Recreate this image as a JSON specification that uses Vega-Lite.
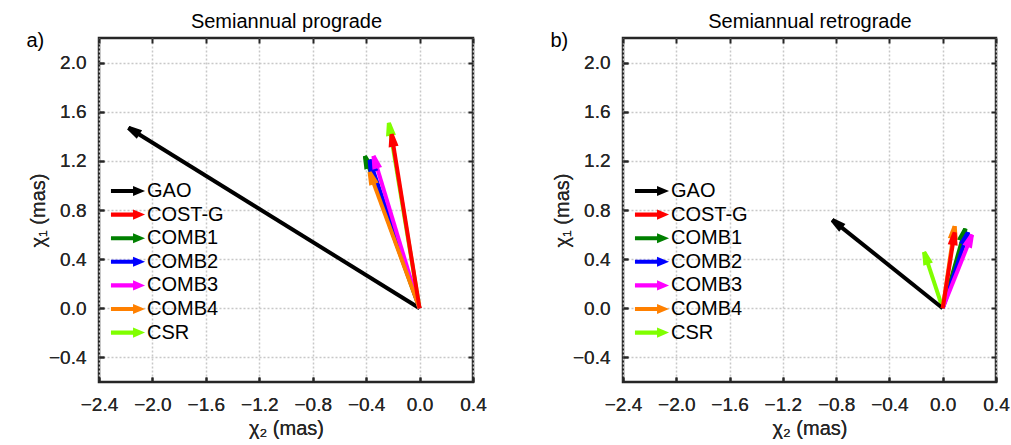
{
  "$schema": "https://vega.github.io/schema/vega-lite/v6.json",
  "padding": {"left": 25, "top": 9, "right": 2, "bottom": 5},
  "data": {"values": [
    {"panel": "a", "series": "CSR", "x": -0.23, "y": 1.51},
    {"panel": "a", "series": "GAO", "x": -2.18, "y": 1.47},
    {"panel": "a", "series": "COMB1", "x": -0.41, "y": 1.24},
    {"panel": "a", "series": "COMB2", "x": -0.375, "y": 1.21},
    {"panel": "a", "series": "COMB3", "x": -0.345, "y": 1.24},
    {"panel": "a", "series": "COMB4", "x": -0.375, "y": 1.11},
    {"panel": "a", "series": "COST-G", "x": -0.21, "y": 1.42},
    {"panel": "b", "series": "CSR", "x": -0.14, "y": 0.46},
    {"panel": "b", "series": "GAO", "x": -0.83, "y": 0.72},
    {"panel": "b", "series": "COMB1", "x": 0.17, "y": 0.65},
    {"panel": "b", "series": "COMB2", "x": 0.19, "y": 0.62},
    {"panel": "b", "series": "COMB3", "x": 0.22, "y": 0.6},
    {"panel": "b", "series": "COMB4", "x": 0.09, "y": 0.67},
    {"panel": "b", "series": "COST-G", "x": 0.09, "y": 0.62}
  ]},
  "hconcat": [
    {
      "width": 374, "height": 344,
      "title": {"text": "a)", "anchor": "start", "offset": -40, "dx": -2},
      "transform": [
        {"filter": "datum.panel == 'a'"},
        {"calculate": "atan2(datum.x*133.6, datum.y*122.9)*180/PI", "as": "ang"}
      ],
      "layer": [
        {
          "mark": {"type": "point", "filled": true, "opacity": 1, "shape": "M-0.2,0L0.2,0L0.45,1.2L-0.45,1.2Z", "size": 1, "strokeWidth": 0},
          "encoding": {
            "x": {"field": "x", "type": "quantitative", "scale": {"domain": [-2.4, 0.4], "nice": false, "zero": false},
                  "axis": {"orient": "bottom", "values": [-2.4, -2.0, -1.6, -1.2, -0.8, -0.4, 0.0, 0.4], "format": ".1f", "title": "χ₂ (mas)"}},
            "y": {"field": "y", "type": "quantitative", "scale": {"domain": [-0.6, 2.2], "nice": false, "zero": false},
                  "axis": {"orient": "left", "values": [-0.4, 0.0, 0.4, 0.8, 1.2, 1.6, 2.0], "format": ".1f", "title": "χ₁ (mas)", "titlePadding": 0}},
            "color": {"field": "series", "type": "nominal",
                      "scale": {"domain": ["GAO", "COST-G", "COMB1", "COMB2", "COMB3", "COMB4", "CSR"],
                                "range": ["#000000", "#ff0000", "#008000", "#0000ff", "#ff00ff", "#ff8000", "#80ff00"]},
                      "legend": {"orient": "none", "legendX": 17, "legendY": 141}}
          }
        },
        {
          "mark": {"type": "rule", "strokeWidth": 4, "strokeCap": "butt"},
          "encoding": {
            "x": {"field": "x", "type": "quantitative",
                  "axis": {"orient": "bottom", "values": [-2.4, -2.0, -1.6, -1.2, -0.8, -0.4, 0.0, 0.4], "format": ".1f", "title": "χ₂ (mas)"}},
            "x2": {"datum": 0},
            "y": {"field": "y", "type": "quantitative",
                  "axis": {"orient": "left", "values": [-0.4, 0.0, 0.4, 0.8, 1.2, 1.6, 2.0], "format": ".1f", "title": "χ₁ (mas)", "titlePadding": 0}},
            "y2": {"datum": 0},
            "color": {"field": "series", "type": "nominal"}
          }
        },
        {
          "mark": {"type": "point", "filled": true, "opacity": 1, "shape": "M-0.2,0L0.2,0L0.5,1.3L-0.5,1.3Z", "size": 400, "strokeWidth": 0},
          "encoding": {
            "x": {"field": "x", "type": "quantitative",
                  "axis": {"orient": "top", "values": [-2.4, -2.0, -1.6, -1.2, -0.8, -0.4, 0.0, 0.4], "labels": false, "grid": false, "title": "Semiannual prograde", "titleColor": "#000000", "titlePadding": 6}},
            "y": {"field": "y", "type": "quantitative",
                  "axis": {"orient": "right", "values": [-0.4, 0.0, 0.4, 0.8, 1.2, 1.6, 2.0], "labels": false, "grid": false, "title": null}},
            "angle": {"field": "ang", "type": "quantitative", "scale": null},
            "color": {"field": "series", "type": "nominal"}
          }
        }
      ]
    },
    {
      "width": 373, "height": 344,
      "title": {"text": "b)", "anchor": "start", "offset": -40, "dx": -2},
      "transform": [
        {"filter": "datum.panel == 'b'"},
        {"calculate": "atan2(datum.x*133.2, datum.y*122.9)*180/PI", "as": "ang"}
      ],
      "layer": [
        {
          "mark": {"type": "point", "filled": true, "opacity": 1, "shape": "M-0.2,0L0.2,0L0.45,1.2L-0.45,1.2Z", "size": 1, "strokeWidth": 0},
          "encoding": {
            "x": {"field": "x", "type": "quantitative", "scale": {"domain": [-2.4, 0.4], "nice": false, "zero": false},
                  "axis": {"orient": "bottom", "values": [-2.4, -2.0, -1.6, -1.2, -0.8, -0.4, 0.0, 0.4], "format": ".1f", "title": "χ₂ (mas)"}},
            "y": {"field": "y", "type": "quantitative", "scale": {"domain": [-0.6, 2.2], "nice": false, "zero": false},
                  "axis": {"orient": "left", "values": [-0.4, 0.0, 0.4, 0.8, 1.2, 1.6, 2.0], "format": ".1f", "title": "χ₁ (mas)", "titlePadding": 0}},
            "color": {"field": "series", "type": "nominal",
                      "scale": {"domain": ["GAO", "COST-G", "COMB1", "COMB2", "COMB3", "COMB4", "CSR"],
                                "range": ["#000000", "#ff0000", "#008000", "#0000ff", "#ff00ff", "#ff8000", "#80ff00"]},
                      "legend": {"orient": "none", "legendX": 17, "legendY": 141}}
          }
        },
        {
          "mark": {"type": "rule", "strokeWidth": 4, "strokeCap": "butt"},
          "encoding": {
            "x": {"field": "x", "type": "quantitative",
                  "axis": {"orient": "bottom", "values": [-2.4, -2.0, -1.6, -1.2, -0.8, -0.4, 0.0, 0.4], "format": ".1f", "title": "χ₂ (mas)"}},
            "x2": {"datum": 0},
            "y": {"field": "y", "type": "quantitative",
                  "axis": {"orient": "left", "values": [-0.4, 0.0, 0.4, 0.8, 1.2, 1.6, 2.0], "format": ".1f", "title": "χ₁ (mas)", "titlePadding": 0}},
            "y2": {"datum": 0},
            "color": {"field": "series", "type": "nominal"}
          }
        },
        {
          "mark": {"type": "point", "filled": true, "opacity": 1, "shape": "M-0.2,0L0.2,0L0.5,1.3L-0.5,1.3Z", "size": 400, "strokeWidth": 0},
          "encoding": {
            "x": {"field": "x", "type": "quantitative",
                  "axis": {"orient": "top", "values": [-2.4, -2.0, -1.6, -1.2, -0.8, -0.4, 0.0, 0.4], "labels": false, "grid": false, "title": "Semiannual retrograde", "titleColor": "#000000", "titlePadding": 6}},
            "y": {"field": "y", "type": "quantitative",
                  "axis": {"orient": "right", "values": [-0.4, 0.0, 0.4, 0.8, 1.2, 1.6, 2.0], "labels": false, "grid": false, "title": null}},
            "angle": {"field": "ang", "type": "quantitative", "scale": null},
            "color": {"field": "series", "type": "nominal"}
          }
        }
      ]
    }
  ],
  "spacing": 61,
  "resolve": {"scale": {"color": "independent"}, "legend": {"color": "independent"}},
  "config": {
    "font": "Liberation Sans",
    "view": {"stroke": "#262626", "strokeWidth": 2.5},
    "axis": {
      "labelFontSize": 19, "labelColor": "#262626", "labelPadding": 18, "labelOverlap": false, "labelFlush": false,
      "titleFontSize": 20, "titleFontWeight": "normal", "titleColor": "#262626", "titlePadding": 4,
      "domain": false, "ticks": true, "tickColor": "#262626", "tickWidth": 2, "tickSize": -5,
      "grid": true, "gridColor": "#c8c8c8", "gridDash": [2, 2], "gridWidth": 1.5
    },
    "title": {"fontSize": 20, "fontWeight": "normal", "color": "#000000"},
    "legend": {
      "title": null, "padding": 0,
      "symbolType": "M-1.42,-0.17L0.42,-0.17L0.42,-0.42L1.42,0L0.42,0.42L0.42,0.17L-1.42,0.17Z",
      "symbolSize": 576, "symbolStrokeWidth": 0, "symbolOpacity": 1,
      "labelFontSize": 20, "labelColor": "#000000", "labelOffset": 7, "rowPadding": 1.6, "labelLimit": 200
    }
  }
}
